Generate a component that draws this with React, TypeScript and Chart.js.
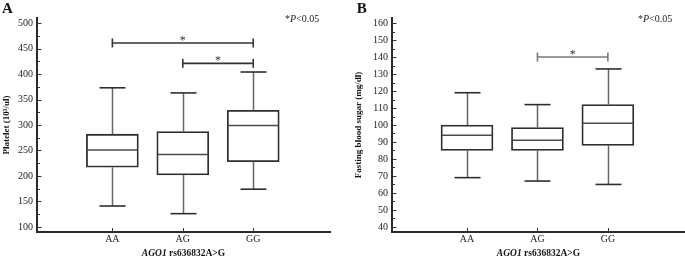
import React, { useEffect, useRef } from 'react';
import { Chart, registerables } from 'chart.js';

Chart.register(...registerables);

// ---------- data ----------
const categories = ['AA', 'AG', 'GG'];
const categoryPositions = [1, 2, 3];

const plateletMin = [141, 126, 174];
const plateletQ1 = [217, 202, 228];
const plateletMedian = [251, 242, 299];
const plateletQ3 = [282, 287, 329];
const plateletMax = [373, 363, 404];
const plateletTicks = [100, 150, 200, 250, 300, 350, 400, 450, 500];
const plateletMinorTicks = [125, 175, 225, 275, 325, 375, 425, 475];
const plateletSigFrom = [1, 2];
const plateletSigTo = [3, 3];
const plateletSigY = [461, 421];

const sugarMin = [69, 67, 65];
const sugarQ1 = [85, 85, 88];
const sugarMedian = [94, 91, 101];
const sugarQ3 = [100, 98.5, 112];
const sugarMax = [119, 112, 133];
const sugarTicks = [40, 50, 60, 70, 80, 90, 100, 110, 120, 130, 140, 150, 160];
const sugarMinorTicks = [45, 55, 65, 75, 85, 95, 105, 115, 125, 135, 145, 155];
const sugarSigFrom = [2];
const sugarSigTo = [3];
const sugarSigY = [140];

const SERIF = "'Liberation Serif', 'Times New Roman', Times, serif";

type PanelProps = {
  left: number;
  width: number;
  height: number;
  yWidth: number;
  padRight: number;
  padTop: number;
  xMin: number;
  xMax: number;
  yMin: number;
  yMax: number;
  mins: number[];
  q1s: number[];
  medians: number[];
  q3s: number[];
  maxs: number[];
  ticks: number[];
  minorTicks: number[];
  sigFrom: number[];
  sigTo: number[];
  sigY: number[];
  sigColor: string;
  yTitle: string;
  yTitlePad: number;
  letter: string;
  letterX: number;
  noteX: number;
};

type Run = { text: string; font: string };

function drawRuns(ctx: CanvasRenderingContext2D, runs: Run[], x: number, y: number, align: 'left' | 'center') {
  let total = 0;
  runs.forEach((r) => {
    ctx.font = r.font;
    total += ctx.measureText(r.text).width;
  });
  let cx = align === 'center' ? x - total / 2 : x;
  ctx.textAlign = 'left';
  ctx.textBaseline = 'alphabetic';
  runs.forEach((r) => {
    ctx.font = r.font;
    ctx.fillText(r.text, cx, y);
    cx += ctx.measureText(r.text).width;
  });
}

function Panel(p: PanelProps) {
  const ref = useRef<HTMLCanvasElement>(null);

  useEffect(() => {
    const canvas = ref.current;
    if (!canvas) return;

    const line = (ctx: CanvasRenderingContext2D, x1: number, y1: number, x2: number, y2: number) => {
      ctx.beginPath();
      ctx.moveTo(x1, y1);
      ctx.lineTo(x2, y2);
      ctx.stroke();
    };

    const overlay = {
      id: 'boxOverlay',
      afterDatasetsDraw(chart: any) {
        const ctx: CanvasRenderingContext2D = chart.ctx;
        const xs = chart.scales.x;
        const ys = chart.scales.y;
        const area = chart.chartArea;
        const meta = chart.getDatasetMeta(0);
        ctx.save();
        ctx.lineCap = 'butt';

        // whiskers, caps, medians
        p.mins.forEach((_, i) => {
          const el: any = meta.data[i];
          const cx = Math.round(xs.getPixelForValue(categoryPositions[i])) + 0.5;
          const half = el.width / 2;
          const yMax = ys.getPixelForValue(p.maxs[i]);
          const yQ3 = ys.getPixelForValue(p.q3s[i]);
          const yQ1 = ys.getPixelForValue(p.q1s[i]);
          const yMinP = ys.getPixelForValue(p.mins[i]);
          const yMed = ys.getPixelForValue(p.medians[i]);
          ctx.strokeStyle = '#666';
          ctx.lineWidth = 1.5;
          line(ctx, cx, yQ3, cx, yMax);
          line(ctx, cx, yQ1, cx, yMinP);
          ctx.strokeStyle = '#2e2e2e';
          ctx.lineWidth = 1.6;
          line(ctx, cx - half / 2, yMax, cx + half / 2, yMax);
          line(ctx, cx - half / 2, yMinP, cx + half / 2, yMinP);
          ctx.strokeStyle = '#4a4a4a';
          ctx.lineWidth = 1.6;
          line(ctx, el.x - half + 1, yMed, el.x + half - 1, yMed);
        });

        // axis tick marks (inside)
        ctx.strokeStyle = '#333';
        ctx.lineWidth = 1;
        p.ticks.forEach((v) => {
          const y = Math.round(ys.getPixelForValue(v)) + 0.5;
          line(ctx, area.left, y, area.left + 4.5, y);
        });
        p.minorTicks.forEach((v) => {
          const y = Math.round(ys.getPixelForValue(v)) + 0.5;
          line(ctx, area.left, y, area.left + 3, y);
        });
        categoryPositions.forEach((v) => {
          const x = Math.round(xs.getPixelForValue(v)) + 0.5;
          line(ctx, x, area.bottom, x, area.bottom - 4);
        });

        // significance bars
        ctx.strokeStyle = p.sigColor;
        ctx.lineWidth = 1.6;
        ctx.fillStyle = '#333';
        p.sigY.forEach((v, i) => {
          const y = ys.getPixelForValue(v);
          const x1 = xs.getPixelForValue(p.sigFrom[i]);
          const x2 = xs.getPixelForValue(p.sigTo[i]);
          line(ctx, x1, y, x2, y);
          line(ctx, x1, y - 4.5, x1, y + 4.5);
          line(ctx, x2, y - 4.5, x2, y + 4.5);
          ctx.font = `12px ${SERIF}`;
          ctx.textAlign = 'center';
          ctx.textBaseline = 'alphabetic';
          ctx.fillText('*', (x1 + x2) / 2, y + 1);
        });

        // texts
        ctx.fillStyle = '#111';
        ctx.font = `bold 15px ${SERIF}`;
        ctx.textAlign = 'left';
        ctx.textBaseline = 'alphabetic';
        ctx.fillText(p.letter, p.letterX, 13);

        ctx.fillStyle = '#222';
        drawRuns(
          ctx,
          [
            { text: '*', font: `10px ${SERIF}` },
            { text: 'P', font: `italic 10px ${SERIF}` },
            { text: '<0.05', font: `10px ${SERIF}` },
          ],
          p.noteX,
          22,
          'left'
        );

        ctx.fillStyle = '#111';
        drawRuns(
          ctx,
          [
            { text: 'AGO1', font: `italic bold 9.5px ${SERIF}` },
            { text: ' rs636832A>G', font: `bold 9.5px ${SERIF}` },
          ],
          (area.left + area.right) / 2,
          255.5,
          'center'
        );
        ctx.restore();
      },
    };

    const chart = new Chart(canvas, {
      type: 'bar',
      data: {
        datasets: [
          {
            data: categoryPositions.map((x, i) => ({ x, y: [p.q1s[i], p.q3s[i]] })) as any,
            backgroundColor: '#ffffff',
            borderColor: '#2e2e2e',
            borderWidth: 1.8,
            borderSkipped: false,
            barThickness: 52,
          },
        ],
      },
      options: {
        animation: false,
        responsive: false,
        maintainAspectRatio: false,
        devicePixelRatio: 1,
        layout: { padding: { left: 0, top: p.padTop, right: p.padRight, bottom: 0 } },
        plugins: { legend: { display: false }, tooltip: { enabled: false } },
        scales: {
          x: {
            type: 'linear',
            offset: false,
            min: p.xMin,
            max: p.xMax,
            afterBuildTicks: (s: any) => {
              s.ticks = categoryPositions.map((v) => ({ value: v }));
            },
            afterFit: (s: any) => {
              s.height = 24;
            },
            ticks: {
              autoSkip: false,
              maxRotation: 0,
              padding: 1.5,
              color: '#222',
              font: { family: SERIF, size: 10 },
              callback: (v: any) => categories[categoryPositions.indexOf(Number(v))] ?? '',
            },
            grid: { display: false, drawTicks: false },
            border: { display: true, color: '#2a2a2a', width: 2 },
          },
          y: {
            type: 'linear',
            min: p.yMin,
            max: p.yMax,
            afterBuildTicks: (s: any) => {
              s.ticks = p.ticks.map((v) => ({ value: v }));
            },
            afterFit: (s: any) => {
              s.width = p.yWidth;
            },
            ticks: {
              padding: 4,
              color: '#222',
              font: { family: SERIF, size: 10 },
            },
            grid: { display: false, drawTicks: false },
            border: { display: true, color: '#2a2a2a', width: 2 },
            title: {
              display: true,
              text: p.yTitle,
              color: '#111',
              padding: { top: p.yTitlePad, bottom: 0 },
              font: { family: SERIF, size: 9, weight: 'bold' },
            },
          },
        },
      },
      plugins: [overlay],
    } as any);

    return () => chart.destroy();
  }, []);

  return (
    <canvas
      ref={ref}
      width={p.width}
      height={p.height}
      style={{ position: 'absolute', left: p.left, top: 0, width: p.width, height: p.height }}
    />
  );
}

export default function App() {
  return (
    <div style={{ position: 'absolute', left: 0, top: 0, width: 685, height: 256, background: '#fff', overflow: 'hidden' }}>
      <Panel
        left={0}
        width={340}
        height={256}
        yWidth={37}
        padRight={10}
        padTop={18}
        xMin={-0.07}
        xMax={4.09}
        yMin={90}
        yMax={510}
        mins={plateletMin}
        q1s={plateletQ1}
        medians={plateletMedian}
        q3s={plateletQ3}
        maxs={plateletMax}
        ticks={plateletTicks}
        minorTicks={plateletMinorTicks}
        sigFrom={plateletSigFrom}
        sigTo={plateletSigTo}
        sigY={plateletSigY}
        sigColor="#333"
        yTitle="Platelet (10³/ul)"
        yTitlePad={1}
        letter="A"
        letterX={2}
        noteX={285}
      />
      <Panel
        left={340}
        width={345}
        height={256}
        yWidth={52}
        padRight={0}
        padTop={18}
        xMin={-0.065}
        xMax={4.095}
        yMin={37}
        yMax={163}
        mins={sugarMin}
        q1s={sugarQ1}
        medians={sugarMedian}
        q3s={sugarQ3}
        maxs={sugarMax}
        ticks={sugarTicks}
        minorTicks={sugarMinorTicks}
        sigFrom={sugarSigFrom}
        sigTo={sugarSigTo}
        sigY={sugarSigY}
        sigColor="#7a7a7a"
        yTitle="Fasting blood sugar (mg/dl)"
        yTitlePad={13.5}
        letter="B"
        letterX={16.7}
        noteX={298}
      />
    </div>
  );
}
